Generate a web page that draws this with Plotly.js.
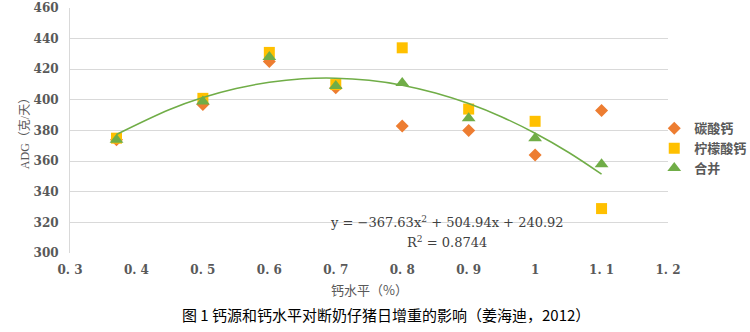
<!DOCTYPE html>
<html><head><meta charset="utf-8">
<script src="https://cdn.plot.ly/plotly-3.0.1.min.js"></script>
<style>html,body{margin:0;padding:0;background:#fff}#c{width:750px;height:332px}</style>
</head><body><div id="c"></div>
<script>
const xLevels = [0.37, 0.5, 0.6, 0.7, 0.8, 0.9, 1.0, 1.1];
const carbonate = [374, 397, 425, 408, 383, 380, 364, 393];
const citrate   = [375, 401, 431, 410, 434, 394, 386, 329];
const combined  = [374, 399, 428, 409, 411, 388, 375, 358];
const trendX = [0.37, 0.45, 0.5, 0.55, 0.6, 0.65, 0.7, 0.75, 0.8, 0.85, 0.9, 0.95, 1.0, 1.05, 1.1];
const trendY = [377.4, 393.7, 401.5, 407.4, 411.5, 413.8, 414.2, 412.8, 409.6, 404.5, 397.6, 388.8, 378.2, 365.8, 351.5];
const xTickVals = [0.3, 0.4, 0.5, 0.6, 0.7, 0.8, 0.9, 1.0, 1.1, 1.2];
const xTickText = ["0. 3", "0. 4", "0. 5", "0. 6", "0. 7", "0. 8", "0. 9", "1", "1. 1", "1. 2"];
const seriesNames = ["碳酸钙", "柠檬酸钙", "合并"];

const serif = "DejaVu Serif, Noto Sans CJK SC, serif";
const gray = "#595959";

const traces = [
  {x: xLevels, y: carbonate, name: seriesNames[0], type: "scatter", mode: "markers",
   marker: {symbol: "diamond", size: 10, color: "#ED7D31"}},
  {x: xLevels, y: citrate, name: seriesNames[1], type: "scatter", mode: "markers",
   marker: {symbol: "square", size: 11, color: "#FFC000"}},
  {x: xLevels, y: combined, name: seriesNames[2], type: "scatter", mode: "markers",
   marker: {symbol: "triangle-up", size: 12, color: "#70AD47"}},
  {x: trendX, y: trendY, type: "scatter", mode: "lines", showlegend: false, hoverinfo: "skip",
   line: {color: "#70AD47", width: 1.5, shape: "spline"}}
];

const layout = {
  width: 750, height: 332,
  margin: {l: 70, r: 82, t: 8, b: 79, autoexpand: false},
  paper_bgcolor: "#fff", plot_bgcolor: "#fff",
  showlegend: true,
  legend: {x: 0.977, y: 0.57, xanchor: "left", yanchor: "top",
           font: {family: "Noto Sans CJK SC, sans-serif", size: 13, color: gray, weight: "bold"},
           itemwidth: 30, tracegroupgap: 0, bgcolor: "rgba(0,0,0,0)"},
  xaxis: {range: [0.3, 1.2], tickvals: xTickVals, ticktext: xTickText,
          showgrid: false, zeroline: false, showline: false, ticks: "",
          ticklabelstandoff: 8,
          tickfont: {family: serif, size: 12, color: gray, weight: "bold"}},
  yaxis: {range: [300, 460], dtick: 20, showgrid: true, gridcolor: "#D9D9D9", gridwidth: 1,
          zeroline: false, showline: true, linecolor: "#D9D9D9", linewidth: 1, ticks: "",
          ticklabelstandoff: 8,
          tickfont: {family: serif, size: 12, color: gray, weight: "bold"},
          title: {text: "ADG（克/天）", font: {family: "Liberation Serif, Noto Sans CJK SC, serif", size: 12, color: gray}}},
  annotations: [
    {xref: "paper", yref: "paper", x: 0.5, y: -0.147, yanchor: "middle", showarrow: false,
     text: "钙水平（%）",
     font: {family: "Noto Sans CJK SC, sans-serif", size: 13, color: gray}},
    {xref: "paper", yref: "paper", x: 0.63, y: 0.127, yanchor: "middle", showarrow: false,
     text: "y = −367.63x<sup>2</sup> + 504.94x + 240.92",
     font: {family: serif, size: 13, color: "#404040"}},
    {xref: "paper", yref: "paper", x: 0.63, y: 0.045, yanchor: "middle", showarrow: false,
     text: "R<sup>2</sup> = 0.8744",
     font: {family: serif, size: 13, color: "#404040"}},
    {xref: "paper", yref: "paper", x: 0.528, y: -0.253, yanchor: "middle", showarrow: false,
     text: "图 1 钙源和钙水平对断奶仔猪日增重的影响（姜海迪，2012）",
     font: {family: "Noto Sans CJK SC, sans-serif", size: 15, color: "#000"}}
  ]
};

Plotly.newPlot("c", traces, layout, {displayModeBar: false, staticPlot: true});
</script>
</body></html>
